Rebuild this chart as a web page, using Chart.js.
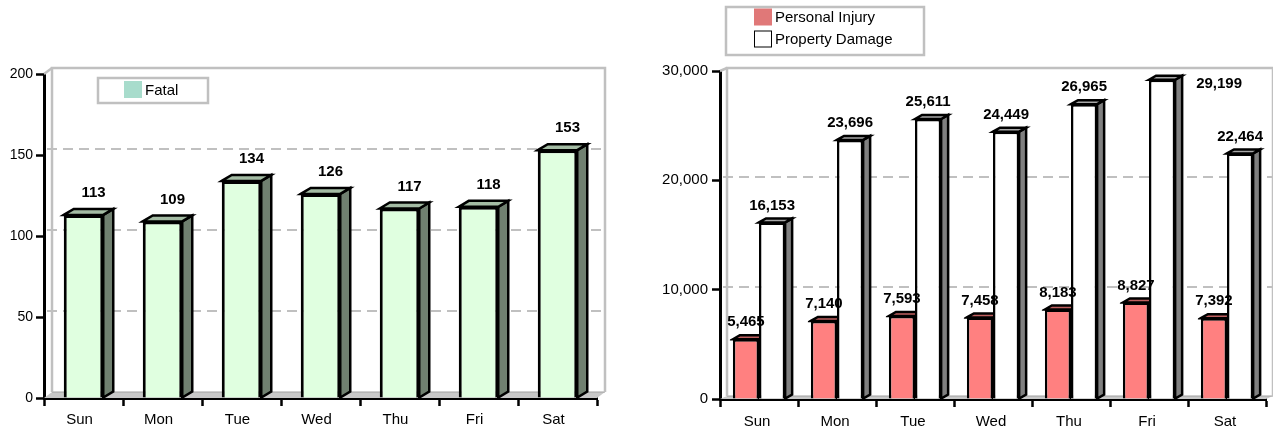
<!DOCTYPE html>
<html lang="en">
<head>
  <meta charset="UTF-8">
  <title>Crashes by Day of Week</title>
  <script src="https://cdn.jsdelivr.net/npm/chart.js"></script>
  <style>
    body {
      margin: 0;
      background: #fff;
    }
    .charts {
      display: flex;
      width: 1273px;
      height: 432px;
    }
    canvas {
      display: block;
    }
  </style>
</head>
<body>
  <div class="charts">
    <canvas id="fatalChart" width="636" height="432"></canvas>
    <canvas id="injuryChart" width="637" height="432"></canvas>
  </div>

  <script>
    const days = ['Sun', 'Mon', 'Tue', 'Wed', 'Thu', 'Fri', 'Sat'];
    const fatal = [113, 109, 134, 126, 117, 118, 153];
    const personalInjury = [5465, 7140, 7593, 7458, 8183, 8827, 7392];
    const propertyDamage = [16153, 23696, 25611, 24449, 26965, 29199, 22464];
    const fatalTicks = [0, 50, 100, 150, 200];
    const crashTicks = [0, 10000, 20000, 30000];

    const FONT = '"Liberation Sans", Arial, sans-serif';
    const fmt = v => v.toLocaleString('en-US');

    // fake 3D: back wall, floor, dashed grid, bar side/top faces, value labels
    const box3d = {
      id: 'box3d',
      beforeDatasetsDraw(chart, args, o) {
        const { ctx, chartArea: a, scales: { y } } = chart;
        const wx = o.wallDx, wy = o.wallDy;
        ctx.save();
        // floor
        ctx.fillStyle = '#c8c8c8';
        ctx.beginPath();
        ctx.moveTo(a.left, a.bottom);
        ctx.lineTo(a.right, a.bottom);
        ctx.lineTo(a.right + wx, a.bottom + wy);
        ctx.lineTo(a.left + wx, a.bottom + wy);
        ctx.closePath();
        ctx.fill();
        ctx.strokeStyle = '#a0a0a0';
        ctx.lineWidth = 1;
        ctx.beginPath();
        ctx.moveTo(a.left + wx, a.bottom + wy);
        ctx.lineTo(a.right + wx, a.bottom + wy);
        ctx.stroke();

        // dashed grid on the back wall
        ctx.strokeStyle = '#c0c0c0';
        ctx.lineWidth = 2;
        ctx.setLineDash([10, 6]);
        y.ticks.forEach(t => {
          if (t.value === y.min || t.value === y.max) return;
          const py = Math.round(y.getPixelForValue(t.value) + wy);
          ctx.beginPath();
          ctx.moveTo(a.left + 3, py);
          ctx.lineTo(a.right + wx, py);
          ctx.stroke();
        });
        ctx.setLineDash([]);

        // wall outline
        ctx.lineWidth = 2.5;
        ctx.beginPath();
        ctx.moveTo(a.left + wx, a.bottom + wy);
        ctx.lineTo(a.left + wx, a.top + wy);
        ctx.lineTo(a.right + wx, a.top + wy);
        ctx.lineTo(a.right + wx, a.bottom + wy);
        ctx.stroke();
        ctx.beginPath();
        ctx.moveTo(a.left, a.top);
        ctx.lineTo(a.left + wx, a.top + wy);
        ctx.stroke();
        ctx.restore();
      },
      afterDatasetsDraw(chart, args, o) {
        const { ctx, chartArea: a } = chart;
        const dx = o.dx, dy = o.dy;
        const poly = (pts, fill) => {
          ctx.beginPath();
          ctx.moveTo(pts[0][0], pts[0][1]);
          pts.slice(1).forEach(p => ctx.lineTo(p[0], p[1]));
          ctx.closePath();
          ctx.fillStyle = fill;
          ctx.fill();
          ctx.stroke();
        };

        chart.data.datasets.forEach((ds, i) => {
          const meta = chart.getDatasetMeta(i);
          meta.data.forEach(bar => {
            const { x, y, base, width } = bar.getProps(['x', 'y', 'base', 'width'], true);
            const l = x - width / 2, r = x + width / 2;
            ctx.save();
            ctx.strokeStyle = '#000';
            ctx.lineWidth = 2.5;
            ctx.lineJoin = 'miter';
            if (ds.clipSide) {
              ctx.beginPath();
              ctx.rect(l - 3, 0, width + 3, chart.height);
              ctx.clip();
            }
            poly([[r, y], [r + dx, y + dy], [r + dx, base + dy], [r, base]], ds.sideColor);
            poly([[l, y], [l + dx, y + dy], [r + dx, y + dy], [r, y]], ds.topColor);
            ctx.restore();
          });
        });

        // value labels
        ctx.save();
        ctx.fillStyle = '#000';
        ctx.font = 'bold ' + o.labelSize + 'px ' + FONT;
        ctx.textBaseline = 'middle';
        chart.data.datasets.forEach((ds, i) => {
          const meta = chart.getDatasetMeta(i);
          meta.data.forEach((bar, j) => {
            const { x, y, width } = bar.getProps(['x', 'y', 'width'], true);
            const text = fmt(ds.data[j]);
            let lx = x + o.labelDx, ly = y + o.labelDy;
            if (ly - 8 < a.top - 3) {
              // no room above the bar: put it beside it
              ctx.textAlign = 'left';
              lx = x + width / 2 + dx + 14;
              ly = y + 4;
            } else {
              ctx.textAlign = 'center';
            }
            ctx.fillText(text, lx, ly);
          });
        });
        ctx.restore();
      }
    };

    // boxed legend drawn at a fixed spot
    const boxLegend = {
      id: 'boxLegend',
      afterDraw(chart, args, o) {
        const { ctx } = chart;
        ctx.save();
        ctx.strokeStyle = '#c0c0c0';
        ctx.lineWidth = 2.5;
        ctx.strokeRect(o.x, o.y, o.w, o.h);
        ctx.font = '15px ' + FONT;
        ctx.textBaseline = 'middle';
        ctx.textAlign = 'left';
        chart.data.datasets.forEach((ds, i) => {
          const cy = o.y + o.firstRow + i * o.rowH;
          ctx.fillStyle = ds.legendColor;
          ctx.fillRect(o.swatchX, cy - 8.5, 18, 17);
          if (ds.legendBorder) {
            ctx.strokeStyle = ds.legendBorder;
            ctx.lineWidth = 1;
            ctx.strokeRect(o.swatchX + 0.5, cy - 8, 17, 16);
          }
          ctx.fillStyle = '#000';
          ctx.fillText(ds.label, o.swatchX + 21, cy + 1);
        });
        ctx.restore();
      }
    };

    function scales(cfg) {
      return {
        x: {
          offset: true,
          grid: {
            offset: true,
            drawOnChartArea: false,
            tickLength: 8,
            tickColor: '#000',
            tickWidth: 2.5
          },
          border: { color: '#000', width: 3 },
          ticks: {
            color: '#000',
            font: { family: FONT, size: 15 },
            padding: cfg.xPad,
            labelOffset: cfg.xLabelOffset
          },
          afterFit(s) { s.height = cfg.xHeight; }
        },
        y: {
          min: cfg.ticks[0],
          max: cfg.ticks[cfg.ticks.length - 1],
          afterBuildTicks(s) { s.ticks = cfg.ticks.map(v => ({ value: v })); },
          grid: {
            drawOnChartArea: false,
            tickLength: 8,
            tickColor: '#000',
            tickWidth: 2.5
          },
          border: { color: '#000', width: 3 },
          ticks: {
            color: '#000',
            font: { family: FONT, size: cfg.yFont },
            padding: cfg.yPad,
            callback: v => fmt(v)
          },
          afterFit(s) { s.width = cfg.yWidth; }
        }
      };
    }

    new Chart(document.getElementById('fatalChart'), {
      type: 'bar',
      data: {
        labels: days,
        datasets: [{
          label: 'Fatal',
          data: fatal,
          backgroundColor: '#e0ffe0',
          borderColor: '#000',
          borderWidth: 3,
          topColor: '#a4bca4',
          sideColor: '#708070',
          legendColor: '#a8dccc',
          categoryPercentage: 0.5,
          barPercentage: 1
        }]
      },
      options: {
        responsive: false,
        animation: false,
        layout: { padding: { left: 0, right: 39, top: 74, bottom: 0 } },
        scales: scales({ ticks: fatalTicks, xHeight: 34, yWidth: 44, yFont: 14, yPad: 3, xPad: 5, xLabelOffset: -4 }),
        plugins: {
          legend: { display: false },
          tooltip: { enabled: false },
          box3d: { dx: 10, dy: -6, wallDx: 8, wallDy: -6, labelDx: 10, labelDy: -22, labelSize: 15 },
          boxLegend: { x: 98, y: 78, w: 110, h: 25, swatchX: 124, firstRow: 11.5, rowH: 22 }
        }
      },
      plugins: [box3d, boxLegend]
    });

    new Chart(document.getElementById('injuryChart'), {
      type: 'bar',
      data: {
        labels: days,
        datasets: [{
          label: 'Personal Injury',
          data: personalInjury,
          backgroundColor: '#ff8080',
          borderColor: '#000',
          borderWidth: 2.5,
          topColor: '#c06060',
          sideColor: '#a05050',
          clipSide: true,
          legendColor: '#e07878',
          categoryPercentage: 0.67,
          barPercentage: 1
        }, {
          label: 'Property Damage',
          data: propertyDamage,
          backgroundColor: '#ffffff',
          borderColor: '#000',
          borderWidth: 2.5,
          topColor: '#a8a8a8',
          sideColor: '#808080',
          legendColor: '#ffffff',
          legendBorder: '#000',
          categoryPercentage: 0.67,
          barPercentage: 1
        }]
      },
      options: {
        responsive: false,
        animation: false,
        layout: { padding: { left: 0, right: 7, top: 71, bottom: 0 } },
        scales: scales({ ticks: crashTicks, xHeight: 33, yWidth: 84, yFont: 15, yPad: 4, xPad: 6, xLabelOffset: -2 }),
        plugins: {
          legend: { display: false },
          tooltip: { enabled: false },
          box3d: { dx: 7, dy: -4, wallDx: 7, wallDy: -3, labelDx: 0, labelDy: -17, labelSize: 15 },
          boxLegend: { x: 90, y: 7, w: 198, h: 48, swatchX: 118, firstRow: 10, rowH: 22 }
        }
      },
      plugins: [box3d, boxLegend]
    });
  </script>
</body>
</html>
